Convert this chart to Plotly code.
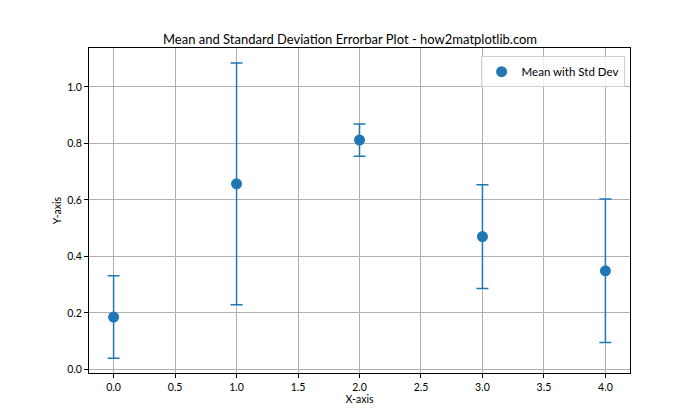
import plotly.graph_objects as go

x_vals = [0, 1, 2, 3, 4]
means = [0.185, 0.657, 0.812, 0.470, 0.349]
stds = [0.146, 0.428, 0.057, 0.184, 0.254]
x_ticks = [0.0, 0.5, 1.0, 1.5, 2.0, 2.5, 3.0, 3.5, 4.0]
y_ticks = [0.0, 0.2, 0.4, 0.6, 0.8, 1.0]

C = "#1f77b4"
FONT = "Lato"

fig = go.Figure()
fig.add_trace(go.Scatter(
    x=x_vals, y=means, mode="markers", name="Mean with Std Dev",
    marker=dict(color=C, size=11),
    error_y=dict(type="data", array=stds, visible=True, color=C, thickness=1.5, width=6),
))

axis_common = dict(
    showline=True, linecolor="black", linewidth=1, mirror=True,
    ticks="outside", ticklen=4, tickcolor="black",
    showgrid=True, gridcolor="#b0b0b0", gridwidth=0.8, zeroline=False,
    tickfont=dict(size=10.5, color="black", family=FONT),
)
fig.update_xaxes(range=[-0.2, 4.2], tickvals=x_ticks, ticktext=[f"{v:.1f}" for v in x_ticks],
                 title=dict(text="X-axis", font=dict(size=10.5, color="black", family=FONT), standoff=2),
                 **axis_common)
fig.update_yaxes(range=[-0.013, 1.138], tickvals=y_ticks, ticktext=[f"{v:.1f}" for v in y_ticks],
                 title=dict(text="Y-axis", font=dict(size=10.5, color="black", family=FONT), standoff=3),
                 **axis_common)

fig.update_layout(
    width=700, height=420,
    margin=dict(l=89, r=70, t=48, b=47),
    paper_bgcolor="white", plot_bgcolor="white",
    font=dict(family=FONT, color="black"),
    title=dict(text="Mean and Standard Deviation Errorbar Plot - how2matplotlib.com",
               x=0.5, xanchor="center", y=0.905, yanchor="middle",
               font=dict(size=13, color="black", family=FONT)),
    showlegend=True,
    legend=dict(x=0.99, y=0.975, xanchor="right", yanchor="top", itemwidth=30,
                bgcolor="rgba(255,255,255,0.8)", bordercolor="#d0d0d0", borderwidth=1,
                font=dict(size=11.5, color="black", family=FONT)),
)

fig.write_html("out.html", config={"displayModeBar": False},
               post_script="document.body.style.margin='0';")
